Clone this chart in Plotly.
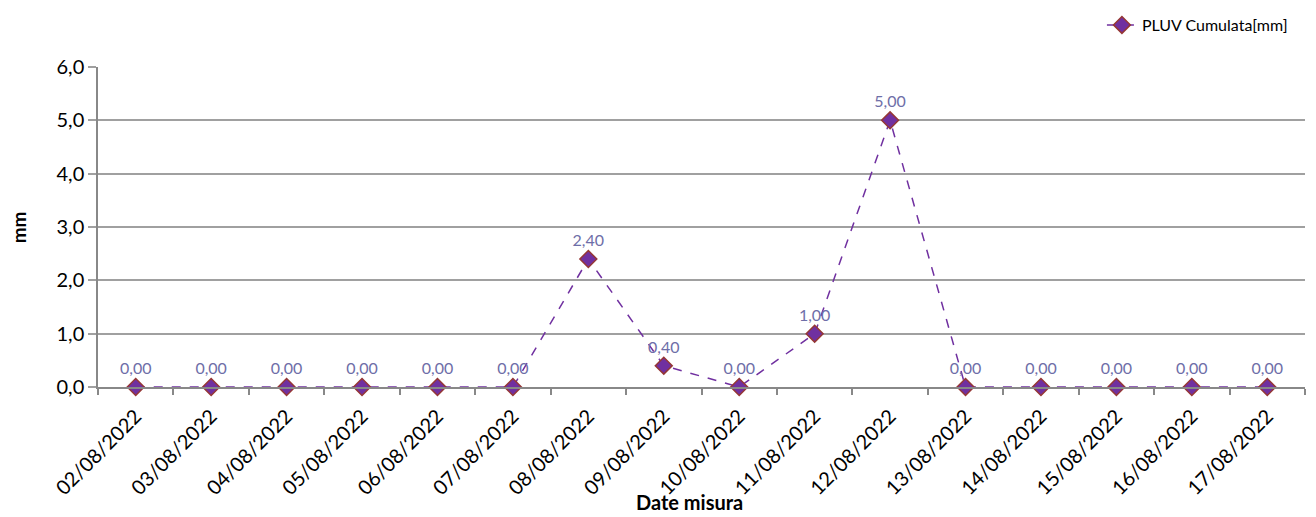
import plotly.graph_objects as go

dates = ["02/08/2022", "03/08/2022", "04/08/2022", "05/08/2022", "06/08/2022",
         "07/08/2022", "08/08/2022", "09/08/2022", "10/08/2022", "11/08/2022",
         "12/08/2022", "13/08/2022", "14/08/2022", "15/08/2022", "16/08/2022",
         "17/08/2022"]
pluv = [0.0, 0.0, 0.0, 0.0, 0.0, 0.0, 2.4, 0.4, 0.0, 1.0, 5.0, 0.0, 0.0, 0.0, 0.0, 0.0]
y_ticks = [0, 1, 2, 3, 4, 5, 6]
y_tick_labels = ["0,0", "1,0", "2,0", "3,0", "4,0", "5,0", "6,0"]

labels = [f"{v:.2f}".replace(".", ",") for v in pluv]

FONT = "Lato, Carlito, Calibri, sans-serif"

fig = go.Figure()
fig.add_trace(go.Scatter(
    x=dates, y=pluv, mode="lines+markers+text",
    name="PLUV Cumulata[mm]",
    line=dict(color="#7030a0", width=1.5, dash="dash"),
    marker=dict(symbol="diamond", size=13, color="#7030a0",
                line=dict(color="#953735", width=1.5)),
    text=labels, textposition="top center",
    textfont=dict(family=FONT, size=16, color="#6e6ea8"),
    cliponaxis=False,
))

fig.update_layout(
    width=1308, height=509,
    margin=dict(l=90, r=11, t=59, b=130),
    plot_bgcolor="white", paper_bgcolor="white",
    font=dict(family=FONT, color="#000000"),
    showlegend=True,
    legend=dict(x=0.99, y=1.0, xref="paper", yref="container",
                xanchor="right", yanchor="top",
                font=dict(family=FONT, size=16, color="#000"),
                bgcolor="rgba(0,0,0,0)"),
    xaxis=dict(
        type="category", tickson="boundaries", ticks="outside", ticklen=6,
        tickcolor="#888888", tickwidth=1.5,
        showline=True, linecolor="#888888", linewidth=1.5,
        showgrid=False, tickangle=-45, automargin=False,
        ticklabelstandoff=8,
        tickfont=dict(family=FONT, size=20, color="#000"),
        range=[-0.5, len(dates) - 0.5],
    ),
    yaxis=dict(
        range=[0, 6], tickvals=y_ticks, ticktext=y_tick_labels,
        showgrid=True, gridcolor="#a0a0a0", gridwidth=1.5,
        ticks="outside", ticklen=8, tickcolor="#a0a0a0", tickwidth=1.5,
        showline=True, linecolor="#888888", linewidth=1.5,
        zeroline=False, automargin=False,
        tickfont=dict(family=FONT, size=20, color="#000"),
    ),
)

fig.add_annotation(text="<b>Date misura</b>", xref="paper", yref="paper",
                   x=0.49, y=-0.36, showarrow=False, yanchor="middle",
                   font=dict(family=FONT, size=20, color="#000"))
fig.add_annotation(text="<b>mm</b>", xref="paper", yref="paper",
                   x=-0.066, xanchor="center", y=0.5, showarrow=False,
                   textangle=-90, yanchor="middle",
                   font=dict(family=FONT, size=19, color="#000"))

fig.write_html("out.html")
